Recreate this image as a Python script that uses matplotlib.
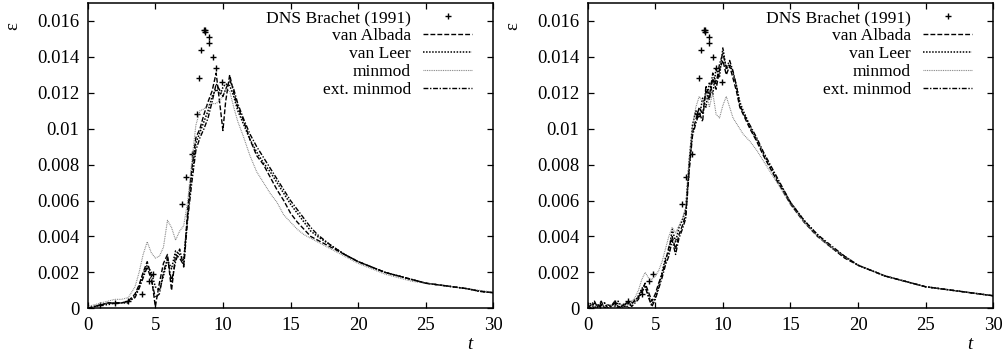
import matplotlib
matplotlib.use("Agg")
import matplotlib.pyplot as plt

plt.rcParams["font.family"] = ["Liberation Serif", "DejaVu Serif"]

# DNS reference points (same in both panels)
t_dns = [0.9, 2.0, 3.0, 4.0, 4.5, 4.8, 6.95, 7.25, 7.7, 8.05, 8.23, 8.4,
         8.6, 8.65, 8.7, 8.95, 9.0, 9.24, 9.47, 9.9]
eps_dns = [0.0002, 0.0003, 0.0004, 0.0008, 0.0015, 0.0019, 0.0058, 0.0073, 0.0086,
           0.0108, 0.0128, 0.0144, 0.0155, 0.0154, 0.0155, 0.0151, 0.0148, 0.0140,
           0.0134, 0.0126]

# left panel (coarse runs)
t_left = [0, 0.5, 1, 1.5, 2, 2.5, 3, 3.5, 3.8, 4.1, 4.4, 4.7, 5.0, 5.3, 5.6, 5.9,
          6.2, 6.5, 6.8, 7.1, 7.4, 7.7, 8.0, 8.3, 8.6, 8.9, 9.2, 9.5, 9.8, 10.0,
          10.2, 10.5, 10.8, 11.1, 11.5, 12, 12.5, 13, 13.5, 14, 14.5, 15, 15.5, 16,
          16.5, 17, 18, 19, 20, 21, 22, 23, 24, 25, 26, 27, 28, 29, 30]
va_left = [0.0000, 0.0001, 0.0002, 0.0003, 0.0003, 0.0003, 0.0004, 0.0008, 0.0013, 0.0020,
           0.0026, 0.0018, 0.0001, 0.0014, 0.0025, 0.0030, 0.0010, 0.0030, 0.0028, 0.0024,
           0.0055, 0.0078, 0.0095, 0.0100, 0.0108, 0.0115, 0.0121, 0.0131, 0.0112, 0.0099,
           0.0115, 0.0130, 0.0120, 0.0112, 0.0105, 0.0094, 0.0085, 0.0080, 0.0073, 0.0066,
           0.0060, 0.0053, 0.0048, 0.0044, 0.0040, 0.0038, 0.0034, 0.0030, 0.0026, 0.0023,
           0.0020, 0.0018, 0.0016, 0.0014, 0.0013, 0.0012, 0.0011, 0.00095, 0.00087]
vl_left = [0.0000, 0.0001, 0.0002, 0.0002, 0.0003, 0.0003, 0.0003, 0.0007, 0.0012, 0.0019,
           0.0024, 0.0020, 0.0012, 0.0010, 0.0018, 0.0027, 0.0022, 0.0032, 0.0030, 0.0027,
           0.0052, 0.0075, 0.0092, 0.0098, 0.0104, 0.0110, 0.0118, 0.0122, 0.0119, 0.0123,
           0.0125, 0.0124, 0.0118, 0.0110, 0.0103, 0.0094, 0.0087, 0.0081, 0.0076, 0.0070,
           0.0064, 0.0058, 0.0053, 0.0048, 0.0043, 0.0040, 0.0035, 0.0030, 0.0026, 0.0023,
           0.0020, 0.0018, 0.0016, 0.0014, 0.0013, 0.0012, 0.0011, 0.00095, 0.00087]
mm_left = [0.0001, 0.0002, 0.0003, 0.0004, 0.0005, 0.0005, 0.0006, 0.0012, 0.0020, 0.0030,
           0.0037, 0.0031, 0.0028, 0.0029, 0.0034, 0.0049, 0.0045, 0.0038, 0.0043, 0.0046,
           0.0060, 0.0082, 0.0102, 0.0110, 0.0111, 0.0113, 0.0114, 0.0114, 0.0116, 0.0118,
           0.0122, 0.0121, 0.0112, 0.0104, 0.0096, 0.0085, 0.0076, 0.0070, 0.0064, 0.0059,
           0.0052, 0.0048, 0.0044, 0.0041, 0.0039, 0.0037, 0.0033, 0.0029, 0.0025, 0.0022,
           0.0019, 0.0017, 0.0015, 0.0014, 0.0013, 0.0012, 0.0011, 0.0010, 0.0009]
em_left = [0.0000, 0.0001, 0.0002, 0.0003, 0.0003, 0.0003, 0.0004, 0.0006, 0.0011, 0.0017,
           0.0023, 0.0016, 0.0006, 0.0008, 0.0020, 0.0028, 0.0015, 0.0026, 0.0033, 0.0023,
           0.0050, 0.0070, 0.0088, 0.0095, 0.0100, 0.0106, 0.0115, 0.0125, 0.0121, 0.0118,
           0.0122, 0.0127, 0.0122, 0.0114, 0.0106, 0.0097, 0.0090, 0.0084, 0.0078, 0.0072,
           0.0066, 0.0060, 0.0055, 0.0050, 0.0045, 0.0041, 0.0035, 0.0030, 0.0026, 0.0023,
           0.0020, 0.0018, 0.0016, 0.0014, 0.0013, 0.0012, 0.0011, 0.00095, 0.00087]

# right panel (fine runs, noisy)
t_right = [0, 0.25, 0.5, 0.75, 1, 1.25, 1.5, 1.75, 2, 2.25, 2.5, 2.75, 3, 3.25, 3.5, 3.75,
           4, 4.25, 4.5, 4.75, 5, 5.25, 5.5, 5.75, 6, 6.25, 6.5, 6.75, 7, 7.25, 7.5, 7.75,
           8, 8.25, 8.5, 8.75, 9, 9.25, 9.5, 9.75, 10, 10.25, 10.5, 10.75, 11, 11.25, 11.5,
           11.75, 12, 12.5, 13, 13.5, 14, 15, 16, 17, 18, 19, 20, 21, 22, 23, 24, 25, 26,
           27, 28, 29, 30]
va_right = [0.0002, 0.0000, 0.0003, 0.0001, 0.0004, 0.0000, 0.0002, 0.0001, 0.0003, 0.0000,
            0.0002, 0.0001, 0.0003, 0.0002, 0.0005, 0.0006, 0.0010, 0.0014, 0.0009, 0.0004,
            0.0008, 0.0014, 0.0019, 0.0026, 0.0034, 0.0040, 0.0033, 0.0041, 0.0046, 0.0052,
            0.0078, 0.0098, 0.0105, 0.0112, 0.0108, 0.0121, 0.0116, 0.0128, 0.0122, 0.0133,
            0.0138, 0.0130, 0.0135, 0.0128, 0.0121, 0.0112, 0.0108, 0.0104, 0.0100, 0.0093,
            0.0085, 0.0078, 0.0071, 0.0058, 0.0048, 0.0040, 0.0034, 0.0028, 0.0024, 0.0021,
            0.0018, 0.0016, 0.0014, 0.0012, 0.0011, 0.0010, 0.0009, 0.0008, 0.0007]
vl_right = [0.0001, 0.0003, 0.0000, 0.0002, 0.0001, 0.0003, 0.0000, 0.0002, 0.0001, 0.0004,
            0.0001, 0.0003, 0.0000, 0.0003, 0.0004, 0.0007, 0.0011, 0.0013, 0.0007, 0.0002,
            0.0006, 0.0012, 0.0020, 0.0028, 0.0031, 0.0044, 0.0037, 0.0045, 0.0049, 0.0055,
            0.0081, 0.0102, 0.0110, 0.0106, 0.0117, 0.0112, 0.0126, 0.0119, 0.0134, 0.0129,
            0.0145, 0.0133, 0.0136, 0.0131, 0.0124, 0.0115, 0.0110, 0.0106, 0.0101, 0.0094,
            0.0086, 0.0079, 0.0072, 0.0059, 0.0049, 0.0041, 0.0034, 0.0029, 0.0024, 0.0021,
            0.0018, 0.0016, 0.0014, 0.0012, 0.0011, 0.0010, 0.0009, 0.0008, 0.0007]
mm_right = [0.0001, 0.0002, 0.0001, 0.0002, 0.0002, 0.0001, 0.0002, 0.0002, 0.0001, 0.0002,
            0.0002, 0.0003, 0.0002, 0.0004, 0.0006, 0.0010, 0.0016, 0.0020, 0.0017, 0.0016,
            0.0018, 0.0021, 0.0026, 0.0033, 0.0040, 0.0045, 0.0042, 0.0046, 0.0050, 0.0056,
            0.0083, 0.0101, 0.0112, 0.0118, 0.0115, 0.0120, 0.0112, 0.0120, 0.0108, 0.0106,
            0.0113, 0.0118, 0.0112, 0.0106, 0.0103, 0.0100, 0.0097, 0.0095, 0.0093, 0.0088,
            0.0082, 0.0076, 0.0070, 0.0058, 0.0048, 0.0040, 0.0034, 0.0029, 0.0024, 0.0021,
            0.0018, 0.0016, 0.0014, 0.0012, 0.0011, 0.0010, 0.0009, 0.0008, 0.0007]
em_right = [0.0000, 0.0002, 0.0004, 0.0000, 0.0002, 0.0003, 0.0000, 0.0001, 0.0004, 0.0001,
            0.0000, 0.0002, 0.0004, 0.0001, 0.0003, 0.0005, 0.0009, 0.0012, 0.0006, 0.0001,
            0.0005, 0.0011, 0.0017, 0.0024, 0.0029, 0.0038, 0.0030, 0.0039, 0.0044, 0.0050,
            0.0076, 0.0096, 0.0103, 0.0109, 0.0104, 0.0124, 0.0118, 0.0131, 0.0125, 0.0136,
            0.0142, 0.0134, 0.0138, 0.0132, 0.0124, 0.0113, 0.0109, 0.0105, 0.0102, 0.0095,
            0.0087, 0.0080, 0.0073, 0.0059, 0.0049, 0.0041, 0.0035, 0.0029, 0.0024, 0.0021,
            0.0018, 0.0016, 0.0014, 0.0012, 0.0011, 0.0010, 0.0009, 0.0008, 0.0007]

x_ticks = [0, 5, 10, 15, 20, 25, 30]
y_ticks = [0, 0.002, 0.004, 0.006, 0.008, 0.01, 0.012, 0.014, 0.016]
y_labels = ["0", "0.002", "0.004", "0.006", "0.008", "0.01", "0.012", "0.014", "0.016"]

fs = 13.5
fs_leg = 12.6
fig = plt.figure(figsize=(10.07, 3.54), dpi=100)
axes = [fig.add_axes([0.0871, 0.129, 0.4028, 0.8625]),
        fig.add_axes([0.5836, 0.129, 0.4028, 0.8625])]
panels = [(t_left, va_left, vl_left, mm_left, em_left),
          (t_right, va_right, vl_right, mm_right, em_right)]

for ax, (t, va, vl, mm, em) in zip(axes, panels):
    ax.plot(t_dns, eps_dns, "+", color="black", ms=5, mew=1.0,
            label="DNS Brachet (1991)")
    ax.plot(t, va, color="black", lw=1.0, ls=(0, (3.5, 1.5)), label="van Albada")
    ax.plot(t, vl, color="black", lw=1.1, ls=(0, (1, 1)), label="van Leer")
    ax.plot(t, mm, color="#808080", lw=0.8, ls=(0, (0.8, 0.8)), label="minmod")
    ax.plot(t, em, color="black", lw=1.0, ls=(0, (3.5, 1.2, 1, 1.2)), label="ext. minmod")

    ax.set_xlim(0, 30)
    ax.set_ylim(0, 0.017)
    ax.set_xticks(x_ticks)
    ax.set_yticks(y_ticks)
    ax.set_yticklabels(y_labels)
    ax.tick_params(direction="in", length=4, width=0.9, top=True, right=True,
                   labelsize=fs, pad=6)
    for s in ax.spines.values():
        s.set_linewidth(1.1)
    ax.text(-0.184, 0.925, "ε", rotation=90, transform=ax.transAxes,
            ha="center", va="center", fontsize=fs)
    ax.text(0.943, -0.12, "t", style="italic", transform=ax.transAxes,
            ha="center", va="center", fontsize=fs)
    ax.legend(loc="upper right", bbox_to_anchor=(0.9475, 0.977), frameon=False,
              markerfirst=False, fontsize=fs_leg, handlelength=2.8, handletextpad=0.7,
              labelspacing=0.1, borderaxespad=0, borderpad=0, numpoints=1)

fig.savefig("out.png", dpi=100)
